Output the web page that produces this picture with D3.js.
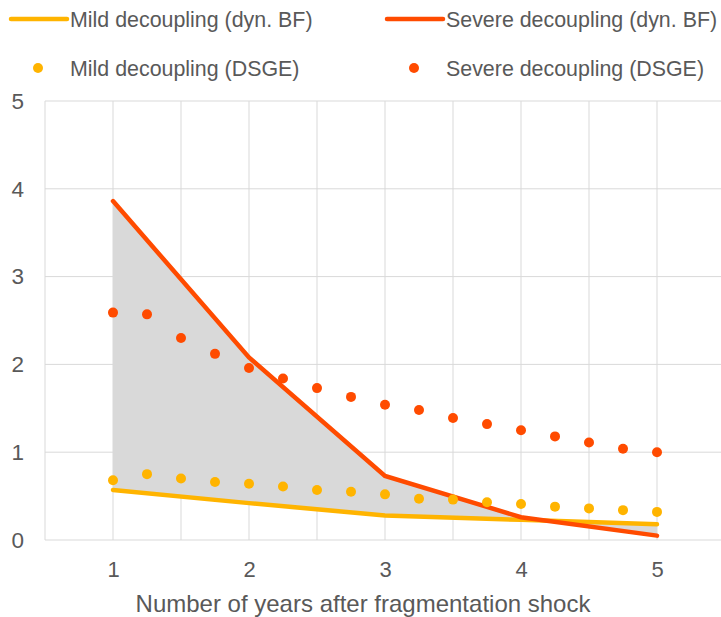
<!DOCTYPE html>
<html>
<head>
<meta charset="utf-8">
<script src="https://cdn.jsdelivr.net/npm/d3@7"></script>
<style>
  body { margin: 0; background: #fff; }
  svg { display: block; font-family: "Liberation Sans", Arial, sans-serif; }
</style>
</head>
<body>
<svg></svg>
<script>
var width = 721;
var height = 617;

// yearly dynamic BF results
var years = [1, 2, 3, 4, 5];
var mildBF = [0.57, 0.42, 0.28, 0.23, 0.18];
var severeBF = [3.86, 2.08, 0.73, 0.26, 0.05];

// quarterly DSGE results
var quarters = [1, 1.25, 1.5, 1.75, 2, 2.25, 2.5, 2.75, 3, 3.25, 3.5, 3.75, 4, 4.25, 4.5, 4.75, 5];
var mildDSGE = [0.68, 0.75, 0.70, 0.66, 0.64, 0.61, 0.57, 0.55, 0.52, 0.47, 0.46, 0.43, 0.41, 0.38, 0.36, 0.34, 0.32];
var severeDSGE = [2.59, 2.57, 2.30, 2.12, 1.96, 1.84, 1.73, 1.63, 1.54, 1.48, 1.39, 1.32, 1.25, 1.18, 1.11, 1.04, 1.00];

var xTicks = [1, 2, 3, 4, 5];
var yTicks = [0, 1, 2, 3, 4, 5];
var xGrid = [0.5, 1, 1.5, 2, 2.5, 3, 3.5, 4, 4.5, 5, 5.5];

var mildColor = "#ffb400";
var severeColor = "#ff4b00";
var gridColor = "#d9d9d9";
var textColor = "#595959";

var svg = d3.select("svg").attr("width", width).attr("height", height);

var padding = { top: 101, right: -4, bottom: 77, left: 45 };

var xScale = d3.scaleLinear()
  .domain([0.5, 5.5])
  .range([padding.left, width - padding.right]);

var yScale = d3.scaleLinear()
  .domain([0, 5])
  .range([height - padding.bottom, padding.top]);

// grid
svg.append("g")
  .selectAll("line")
  .data(xGrid)
  .enter()
  .append("line")
  .attr("x1", d => xScale(d))
  .attr("x2", d => xScale(d))
  .attr("y1", yScale(0))
  .attr("y2", yScale(5))
  .attr("stroke", gridColor)
  .attr("stroke-width", 1);

svg.append("g")
  .selectAll("line")
  .data(yTicks)
  .enter()
  .append("line")
  .attr("x1", xScale(0.5))
  .attr("x2", width)
  .attr("y1", d => yScale(d))
  .attr("y2", d => yScale(d))
  .attr("stroke", gridColor)
  .attr("stroke-width", 1);

// shaded gap between the two BF lines
var gap = years.map((d, i) => ({ x: d, lo: mildBF[i], hi: severeBF[i] }));
svg.append("path")
  .datum(gap)
  .attr("fill", "#d9d9d9")
  .attr("d", d3.area()
    .x(d => xScale(d.x))
    .y0(d => yScale(d.lo))
    .y1(d => yScale(d.hi)));

var line = d3.line()
  .x(d => xScale(d[0]))
  .y(d => yScale(d[1]));

svg.append("path")
  .datum(d3.zip(years, mildBF))
  .attr("fill", "none")
  .attr("stroke", mildColor)
  .attr("stroke-width", 4.5)
  .attr("stroke-linecap", "round")
  .attr("d", line);

svg.append("path")
  .datum(d3.zip(years, severeBF))
  .attr("fill", "none")
  .attr("stroke", severeColor)
  .attr("stroke-width", 4.5)
  .attr("stroke-linecap", "round")
  .attr("d", line);

// DSGE dots
svg.append("g")
  .selectAll("circle")
  .data(d3.zip(quarters, mildDSGE))
  .enter()
  .append("circle")
  .attr("cx", d => xScale(d[0]))
  .attr("cy", d => yScale(d[1]))
  .attr("r", 5)
  .attr("fill", mildColor);

svg.append("g")
  .selectAll("circle")
  .data(d3.zip(quarters, severeDSGE))
  .enter()
  .append("circle")
  .attr("cx", d => xScale(d[0]))
  .attr("cy", d => yScale(d[1]))
  .attr("r", 5)
  .attr("fill", severeColor);

// axes labels
var yAxis = svg.append("g")
  .attr("transform", "translate(" + (padding.left - 21) + ",0)")
  .call(d3.axisLeft(yScale).tickValues(yTicks).tickFormat(d3.format("d")).tickSize(0).tickPadding(0));
yAxis.select(".domain").remove();
yAxis.selectAll("text")
  .attr("fill", textColor)
  .style("font-size", "22.5px")
  .style("font-family", "Liberation Sans, Arial, sans-serif");

var xAxis = svg.append("g")
  .attr("transform", "translate(0," + (yScale(0) + 21) + ")")
  .call(d3.axisBottom(xScale).tickValues(xTicks).tickFormat(d3.format("d")).tickSize(0).tickPadding(0));
xAxis.select(".domain").remove();
xAxis.selectAll("text")
  .attr("fill", textColor)
  .style("font-size", "22px")
  .style("font-family", "Liberation Sans, Arial, sans-serif");

svg.append("text")
  .attr("x", 363)
  .attr("y", 612)
  .attr("text-anchor", "middle")
  .attr("fill", textColor)
  .style("font-size", "24px")
  .text("Number of years after fragmentation shock");

// legend
var legend = [
  { label: "Mild decoupling (dyn. BF)", color: mildColor, type: "line", x: 11, y: 19 },
  { label: "Severe decoupling (dyn. BF)", color: severeColor, type: "line", x: 387, y: 19 },
  { label: "Mild decoupling (DSGE)", color: mildColor, type: "dot", x: 11, y: 68 },
  { label: "Severe decoupling (DSGE)", color: severeColor, type: "dot", x: 387, y: 68 }
];

var items = svg.append("g")
  .selectAll("g")
  .data(legend)
  .enter()
  .append("g")
  .attr("transform", d => "translate(" + d.x + "," + d.y + ")");

items.filter(d => d.type === "line")
  .append("line")
  .attr("x1", 0)
  .attr("x2", 56)
  .attr("stroke", d => d.color)
  .attr("stroke-width", 4.5)
  .attr("stroke-linecap", "round");

items.filter(d => d.type === "dot")
  .append("circle")
  .attr("cx", 27)
  .attr("r", 5)
  .attr("fill", d => d.color);

items.append("text")
  .attr("x", 59)
  .attr("dy", "0.35em")
  .attr("fill", textColor)
  .style("font-size", "21.4px")
  .text(d => d.label);
</script>
</body>
</html>
